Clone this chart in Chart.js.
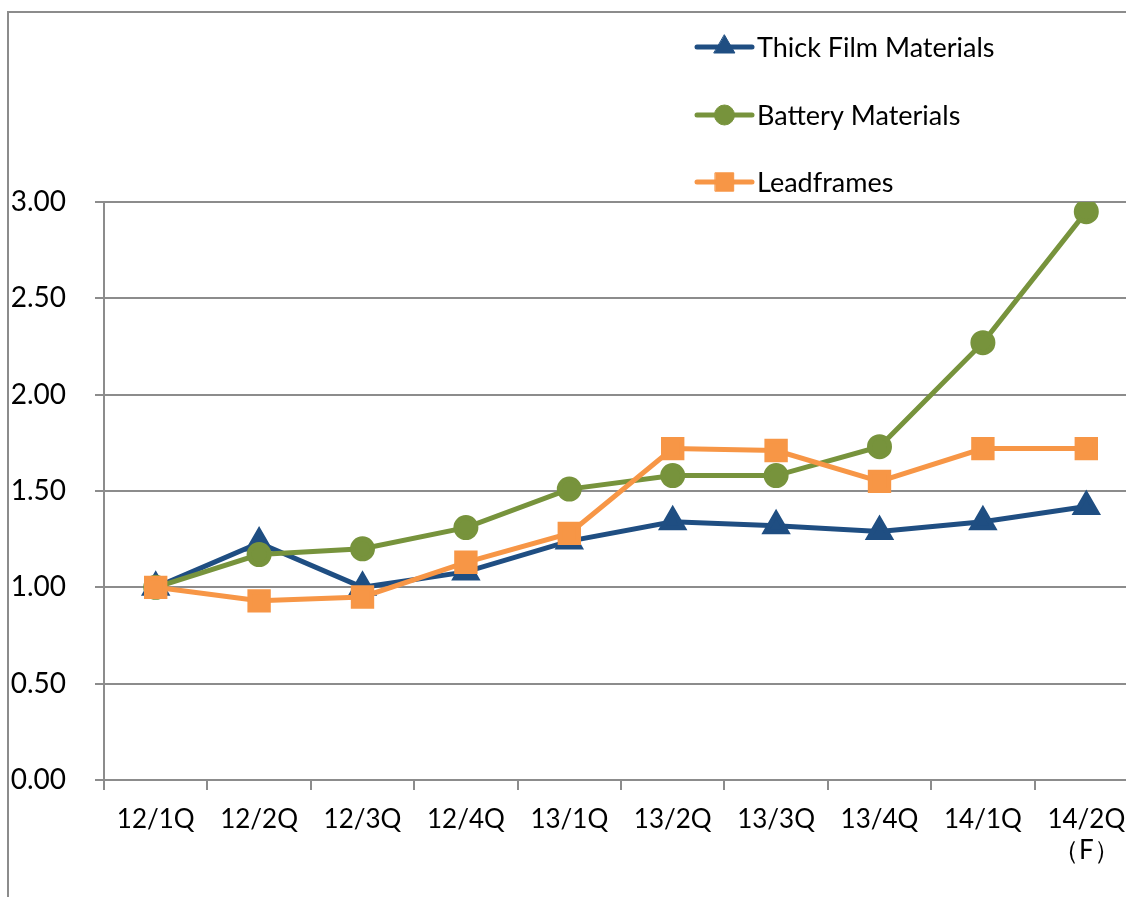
<!DOCTYPE html>
<html>
<head>
<meta charset="utf-8">
<script src="https://cdn.jsdelivr.net/npm/chart.js@4.4.1/dist/chart.umd.min.js"></script>
<style>
  html, body { margin: 0; padding: 0; background: #fff; overflow: hidden; }
  #chart { position: absolute; left: 0; top: 0; }
</style>
</head>
<body>
<canvas id="chart" width="1156" height="897"></canvas>
<script>
// quarters (last one is a forecast)
const quarters = ['12/1Q', '12/2Q', '12/3Q', '12/4Q', '13/1Q', '13/2Q', '13/3Q', '13/4Q', '14/1Q', ['14/2Q', '（F）']];
const thickFilm = [1.00, 1.23, 1.00, 1.08, 1.24, 1.34, 1.32, 1.29, 1.34, 1.42];
const battery   = [1.00, 1.17, 1.20, 1.31, 1.51, 1.58, 1.58, 1.73, 2.27, 2.95];
const leadframes = [1.00, 0.93, 0.95, 1.13, 1.28, 1.72, 1.71, 1.55, 1.72, 1.72];
const yTicks = [0, 0.5, 1.0, 1.5, 2.0, 2.5, 3.0];

const FONT = 'Lato, "Noto Sans", sans-serif';
const GRID = '#8c8c8c';

// outer frame (only left and top edges are visible in the picture)
const framePlugin = {
  id: 'frame',
  beforeDraw(chart) {
    const { ctx } = chart;
    ctx.save();
    ctx.strokeStyle = GRID;
    ctx.lineWidth = 2;
    ctx.beginPath();
    ctx.moveTo(8, chart.height + 5);
    ctx.lineTo(8, 12);
    ctx.lineTo(chart.width + 5, 12);
    ctx.stroke();
    ctx.restore();
  }
};

// vertical legend in the upper right, like the Excel original
const legendPlugin = {
  id: 'sideLegend',
  afterDraw(chart) {
    const { ctx } = chart;
    const x0 = 697, x1 = 752, rows = [47, 115, 182];
    ctx.save();
    chart.data.datasets.forEach((ds, i) => {
      const y = rows[i];
      ctx.strokeStyle = ds.borderColor;
      ctx.fillStyle = ds.borderColor;
      ctx.lineWidth = 5;
      ctx.lineCap = 'round';
      ctx.beginPath();
      ctx.moveTo(x0, y);
      ctx.lineTo(x1, y);
      ctx.stroke();
      ctx.lineWidth = 1;
      Chart.helpers.drawPoint(ctx, {
        pointStyle: ds.pointStyle, radius: ds.pointRadius, borderWidth: 1
      }, (x0 + x1) / 2, y);
      ctx.fillStyle = '#000';
      ctx.font = '27px ' + FONT;
      ctx.textBaseline = 'middle';
      ctx.fillText(ds.label, x1 + 5, y + 1);
    });
    ctx.restore();
  }
};

function series(label, data, color, style, r, order) {
  return {
    label, data, order,
    borderColor: color,
    backgroundColor: color,
    pointBackgroundColor: color,
    pointBorderColor: color,
    borderWidth: 5,
    pointStyle: style,
    pointRadius: r,
    pointHoverRadius: r,
    tension: 0
  };
}

new Chart(document.getElementById('chart'), {
  type: 'line',
  data: {
    labels: quarters,
    datasets: [
      series('Thick Film Materials', thickFilm, '#1f4e82', 'triangle', 12, 2),
      series('Battery Materials', battery, '#77933c', 'circle', 10, 1),
      series('Leadframes', leadframes, '#f79646', 'rect', 13, 0)
    ]
  },
  options: {
    responsive: false,
    animation: false,
    layout: { padding: { top: 202, left: 0, right: 3, bottom: 0 } },
    plugins: { legend: { display: false }, tooltip: { enabled: false } },
    scales: {
      x: {
        offset: true,
        grid: { offset: true, drawOnChartArea: false, drawTicks: true, tickLength: 10, color: GRID, lineWidth: 2 },
        border: { display: false },
        ticks: { color: '#000', font: { family: FONT, size: 26 }, padding: 14, maxRotation: 0, autoSkip: false },
        afterFit(scale) { scale.height = 117; }
      },
      y: {
        min: 0, max: 3,
        afterBuildTicks(scale) { scale.ticks = yTicks.map(v => ({ value: v })); },
        grid: { color: GRID, lineWidth: 2, tickLength: 9 },
        border: { color: GRID, width: 2 },
        ticks: {
          color: '#000', font: { family: FONT, size: 28 }, padding: 29,
          callback: v => v.toFixed(2)
        },
        afterFit(scale) { scale.width = 104; }
      }
    }
  },
  plugins: [framePlugin, legendPlugin]
});
</script>
</body>
</html>
